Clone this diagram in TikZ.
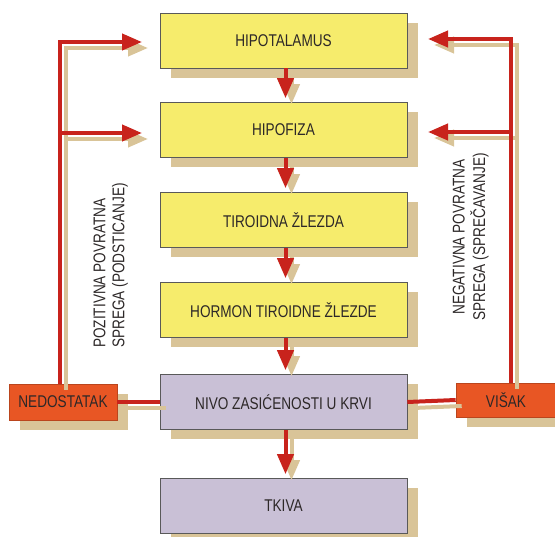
\documentclass[tikz,border=0pt]{standalone}
\usepackage{fontspec}
\setmainfont{Liberation Sans}
\usetikzlibrary{arrows.meta,shadows}
\definecolor{boxyellow}{RGB}{246,236,108}
\definecolor{lav}{RGB}{201,192,214}
\definecolor{orangec}{RGB}{232,86,36}
\definecolor{redc}{RGB}{200,35,28}
\definecolor{tanc}{RGB}{217,196,152}
\definecolor{txt}{RGB}{45,40,40}
\newcommand\nar[1]{\scalebox{0.8}[1]{\MakeUppercase{#1}}}
\newcommand\drawlinks[1]{%
  \draw[#1,tip] (lack.north -| la) -- (la) -- (ta);
  \draw[#1,tip] (lb) -- (tb);
  \draw[#1,tip] (exc.north -| ra) -- (ra) -- (sa);
  \draw[#1,tip] (rb) -- (sb);
  \draw[#1] (lack.east) -- (lvl.west);
  \draw[#1] (lvl.east) -- (exc.west);
  \foreach \a/\b in {hyp/pit,pit/thy,thy/hor,hor/lvl,lvl/tis}
    \draw[#1,tip,shorten >=4pt] ([xshift=2pt]\a.south) -- ([xshift=2pt]\b.north);
}
\begin{document}
\begin{tikzpicture}[x=1pt,y=-1pt,
  box/.style={draw=black!65, line width=0.6pt, minimum width=247pt, minimum height=55pt,
    inner sep=0pt, font=\fontsize{17}{20}\selectfont, text=txt,
    drop shadow={shadow xshift=11pt, shadow yshift=-10pt, fill=tanc, opacity=1}},
  ybox/.style={box, fill=boxyellow},
  pbox/.style={box, fill=lav},
  obox/.style={box, fill=orangec, draw=orangec!80!black},
  fb/.style={draw=redc, line width=4pt},
  shad/.style={draw=tanc, line width=4pt, transform canvas={shift={(6pt,-6pt)}}},
  tip/.style={-{Triangle[length=20pt,width=16pt]}},
  lbl/.style={font=\fontsize{17}{19}\selectfont, text=txt, inner sep=0pt, rotate=90}
]
\useasboundingbox (0,0) rectangle (555,537);
\clip (0,0) rectangle (555,537);
\node[ybox] (hyp) at (283.5,40.5) {\nar{HIPOTALAMUS}};
\node[ybox] (pit) at (283.5,130) {\nar{HIPOFIZA}};
\node[ybox] (thy) at (283.5,220) {\nar{TIROIDNA ŽLEZDA}};
\node[ybox] (hor) at (283.5,310) {\nar{HORMON TIROIDNE ŽLEZDE}};
\node[pbox] (lvl) at (283.5,402) {\nar{NIVO ZASIĆENOSTI U KRVI}};
\node[pbox] (tis) at (283.5,506) {\nar{TKIVA}};
\node[obox, minimum width=108pt, minimum height=36pt] (lack) at (63,402) {\nar{NEDOSTATAK}};
\node[obox, minimum width=100pt, minimum height=34pt] (exc) at (506,400) {\nar{VIŠAK}};
\coordinate (la) at (60,42);
\coordinate (lb) at (60,133);
\coordinate (ta) at (142,42);
\coordinate (tb) at (142,133);
\coordinate (ra) at (511,39);
\coordinate (rb) at (511,132);
\coordinate (sa) at (428,39);
\coordinate (sb) at (428,132);
\drawlinks{shad}
\drawlinks{fb}
\node[lbl, anchor=west] (pos) at (111,348) {\scalebox{0.8}[1]{\begin{tabular}{@{}l@{}}\MakeUppercase{POZITIVNA POVRATNA}\\\MakeUppercase{SPREGA (PODSTICANJE)}\end{tabular}}};
\node[lbl, anchor=center] (neg) at (471,237) {\scalebox{0.8}[1]{\begin{tabular}{@{}c@{}}\MakeUppercase{NEGATIVNA POVRATNA}\\\MakeUppercase{SPREGA (SPREČAVANJE)}\end{tabular}}};
\end{tikzpicture}
\end{document}
